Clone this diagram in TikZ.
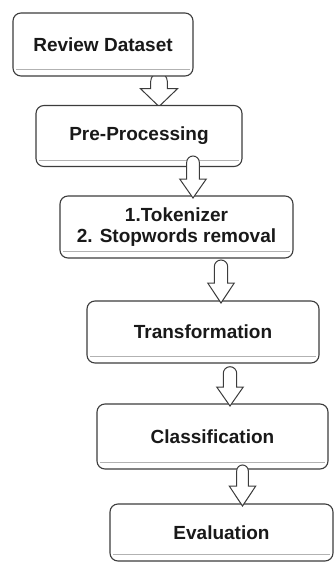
\documentclass[tikz,border=0pt]{standalone}
\usepackage{fontspec}
\setmainfont{Liberation Sans}
\usetikzlibrary{calc,backgrounds}
\definecolor{edge}{RGB}{60,60,60}
\definecolor{ink}{RGB}{25,25,25}
\tikzset{
  stepbox/.style={draw=edge, line width=1.1pt, fill=white, rounded corners=8pt,
    inner sep=0pt, outer sep=0pt, align=center, text=ink,
    font=\fontsize{19}{21}\selectfont\bfseries},
  shadeline/.style={draw=black!30, line width=0.9pt},
  barrow/.style={draw=edge, line width=1pt, fill=white, line join=miter}
}
\newcommand\blockarr[5]{%
  \path[barrow] let \p1=(#1), \p2=(#2) in
    (\x1-#3,\y2+#5) -- (\x1-#3,\y1-#3) arc[start angle=180,end angle=0,radius=#3]
    -- (\x1+#3,\y2+#5) -- (\x1+#4,\y2+#5) -- (\x1,\y2) -- (\x1-#4,\y2+#5) -- cycle;}
\begin{document}
\begin{tikzpicture}[x=1pt,y=-1pt]
\useasboundingbox (0,0) rectangle (334,562);
\begin{scope}
\clip (0,0) rectangle (334,562);
\node[stepbox, minimum width=180pt, minimum height=63pt] (b1) at (103,44.5) {Review Dataset};
\node[stepbox, minimum width=206pt, minimum height=61pt] (b2) at (139,136) {Pre-Processing};
\node[stepbox, minimum width=233pt, minimum height=62pt] (b3) at (176.5,227) {1.Tokenizer\\2. Stopwords removal};
\node[stepbox, minimum width=232pt, minimum height=62pt] (b4) at (203,332) {Transformation};
\node[stepbox, minimum width=231pt, minimum height=65pt] (b5) at (212.5,436.5) {Classification};
\node[stepbox, minimum width=223pt, minimum height=57pt] (b6) at (221.5,532.5) {Evaluation};
\foreach \b in {b1,b2,b3,b4,b5,b6}{
  \draw[shadeline] ([xshift=3pt,yshift=6.5pt]\b.south west) -- ([xshift=-3pt,yshift=6.5pt]\b.south east);
}
\coordinate (a1s) at ([xshift=56pt,yshift=3pt]b1.south);
\coordinate (a2s) at ([xshift=54pt,yshift=10.5pt]b2.south);
\coordinate (a3s) at ([xshift=44.5pt,yshift=-2pt]b3.south);
\coordinate (a4s) at ([xshift=27pt,yshift=-3.7pt]b4.south);
\coordinate (a5s) at ([xshift=30pt,yshift=4pt]b5.south);
\coordinate (a1e) at ([yshift=-1pt]a1s |- b2.north);
\coordinate (a2e) at ([yshift=-2pt]a2s |- b3.north);
\coordinate (a3e) at ([yshift=-2pt]a3s |- b4.north);
\coordinate (a4e) at ([yshift=-2pt]a4s |- b5.north);
\coordinate (a5e) at ([yshift=-2pt]a5s |- b6.north);
\begin{scope}[on background layer]
\blockarr{a1s}{a1e}{8.3pt}{18.7pt}{18pt}
\end{scope}
\blockarr{a2s}{a2e}{6.3pt}{13.3pt}{19pt}
\blockarr{a3s}{a3e}{6.7pt}{13.3pt}{20pt}
\blockarr{a4s}{a4e}{6.7pt}{13.3pt}{19pt}
\blockarr{a5s}{a5e}{5.8pt}{13.3pt}{20pt}
\end{scope}
\end{tikzpicture}
\end{document}
